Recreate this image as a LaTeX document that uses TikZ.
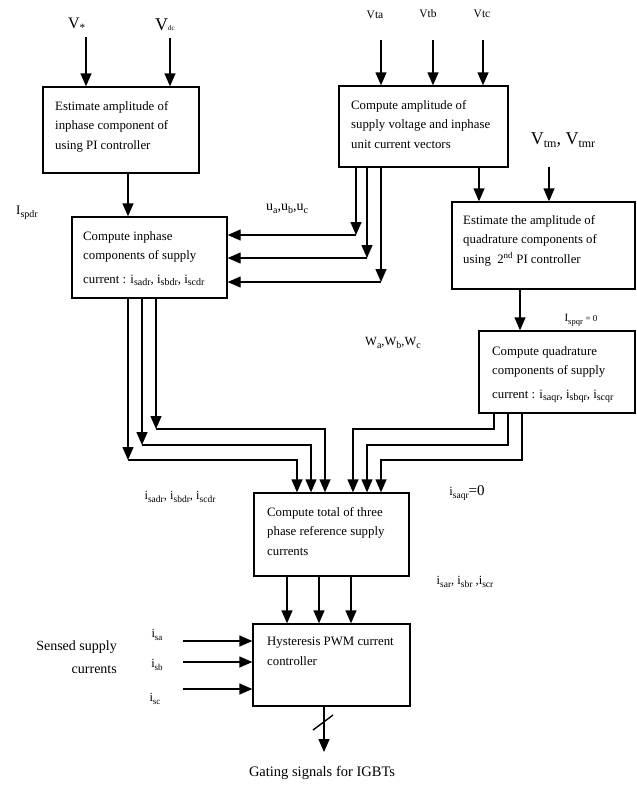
\documentclass[tikz,border=0pt]{standalone}
\usepackage{fontspec}
\setmainfont{Liberation Serif}
\usetikzlibrary{arrows.meta,calc}
\newcommand{\dn}[2][9.5]{\raisebox{-2.6pt}{\fontsize{#1}{#1}\selectfont #2}}
\begin{document}
\begin{tikzpicture}[x=1pt,y=-1pt,
  box/.style={draw,line width=1.4pt,inner sep=0pt},
  btext/.style={anchor=north west,inner sep=0pt,align=left,font=\fontsize{12.8}{19.5}\selectfont},
  lab/.style={inner sep=0pt,font=\fontsize{12.5}{14}\selectfont},
  wire/.style={line width=1.4pt},
  arr/.style={line width=1.4pt,-{Triangle[length=13pt,width=11pt]}}
]
\useasboundingbox (0,0) rectangle (637,787);

% boxes
\node[box,minimum width=156pt,minimum height=86pt] (b1) at (121,130) {};
\node[box,minimum width=169pt,minimum height=81pt] (b2) at (423.5,126.5) {};
\node[box,minimum width=155pt,minimum height=81pt] (b3) at (149.5,257.5) {};
\node[box,minimum width=183pt,minimum height=87pt] (b4) at (543.5,245.5) {};
\node[box,minimum width=156pt,minimum height=82pt] (b5) at (557,372) {};
\node[box,minimum width=155pt,minimum height=83pt] (b6) at (331.5,534.5) {};
\node[box,minimum width=157pt,minimum height=82pt] (b7) at (331.5,665) {};

% box texts
\node[btext] (t1) at (55,101) {Estimate amplitude of\\inphase component of\\using PI controller};
\node[btext] (t2) at (351,100) {Compute amplitude of\\supply voltage and inphase\\unit current vectors};
\node[btext] (t3) at (83,231) {Compute inphase\\components of supply\\[4pt]current : i\dn[10]{sadr}, i\dn[10]{sbdr}, i\dn[10]{scdr}};
\node[btext] (t4) at (463,215) {Estimate the amplitude of\\quadrature components of\\using\ \ 2\textsuperscript{nd} PI controller};
\node[btext] (t5) at (492,346) {Compute quadrature\\components of supply\\[4pt]current : i\dn[10]{saqr}, i\dn[10]{sbqr}, i\dn[10]{scqr}};
\node[btext] (t6) at (267,507) {Compute total of three\\phase reference supply\\currents};
\node[btext] (t7) at (267,637) {Hysteresis PWM current\\controller};

% labels
\node[inner sep=0pt,font=\fontsize{16}{18}\selectfont] (lvs) at (77,25) {V\textsubscript{*}};
\node[inner sep=0pt,font=\fontsize{18}{20}\selectfont] (lvdc) at (165,25) {V{\fontsize{7}{8}\selectfont dc}};
\node[inner sep=0pt,font=\fontsize{11.5}{13}\selectfont] (lva) at (375,15) {Vta};
\node[inner sep=0pt,font=\fontsize{11.5}{13}\selectfont] (lvb) at (428,14) {Vtb};
\node[inner sep=0pt,font=\fontsize{11.5}{13}\selectfont] (lvc) at (482,14) {Vtc};
\node[inner sep=0pt,font=\fontsize{18}{20}\selectfont] (lvtm) at (563,140) {V\dn[12]{tm}, V\dn[12]{tmr}};
\node[lab,font=\fontsize{13}{15}\selectfont] (lisp) at (27,213) {I\dn[10]{spdr}};
\node[lab,font=\fontsize{14}{16}\selectfont] (lu) at (287,209) {u\dn[10]{a},u\dn[10]{b},u\dn[10]{c}};
\node[lab] (lw) at (393,343) {W\dn[10]{a},W\dn[10]{b},W\dn[10]{c}};
\node[lab,font=\fontsize{11}{13}\selectfont] (liq) at (581,320) {I\dn[8.5]{spqr} {\fontsize{9}{10}\selectfont = 0}};
\node[lab] (lid) at (180,497) {i\dn{sadr}, i\dn{sbdr}, i\dn{scdr}};
\node[lab] (liqz) at (467,493) {i\dn{saqr}{\fontsize{15}{16}\selectfont =0}};
\node[lab] (lir) at (465,582) {i\dn{sar}, i\dn{sbr} ,i\dn{scr}};
\node[lab] (lisa) at (157,635) {i\dn[9]{sa}};
\node[lab] (lisb) at (157,665) {i\dn[9]{sb}};
\node[lab] (lisc) at (155,699) {i\dn[9]{sc}};
\node[inner sep=0pt,align=right,anchor=east,font=\fontsize{14}{23}\selectfont] (lsense) at (117,657) {Sensed supply\\currents};
\node[inner sep=0pt,font=\fontsize{14.5}{16}\selectfont] (lgate) at (322,773) {Gating signals for IGBTs};

% inputs to b1
\coordinate (vs) at (86,37);
\coordinate (vd) at (170,38);
\draw[arr] (vs) -- (vs |- b1.north);
\draw[arr] (vd) -- (vd |- b1.north);
% b1 -> b3
\coordinate (c13) at (128,200);
\draw[arr] (c13 |- b1.south) -- (c13 |- b3.north);
% inputs to b2
\coordinate (va) at (381,40);
\coordinate (vb) at (433,40);
\coordinate (vc) at (483,40);
\draw[arr] (va) -- (va |- b2.north);
\draw[arr] (vb) -- (vb |- b2.north);
\draw[arr] (vc) -- (vc |- b2.north);
% b2 -> b3 (unit vectors)
\coordinate (u1) at (356,235);
\coordinate (u2) at (367,258);
\coordinate (u3) at (381,282);
\foreach \u in {u1,u2,u3}{
  \draw[arr] (\u |- b2.south) -- (\u);
  \draw[arr] (\u) -- (\u -| b3.east);
}
% b2 -> b4, Vtm -> b4
\coordinate (c24) at (479,180);
\draw[arr] (c24 |- b2.south) -- (c24 |- b4.north);
\coordinate (vtm) at (549,167);
\draw[arr] (vtm) -- (vtm |- b4.north);
% b4 -> b5
\coordinate (c45) at (520,300);
\draw[arr] (c45 |- b4.south) -- (c45 |- b5.north);
% b3 -> b6
\coordinate (d1) at (128,460); \coordinate (d1e) at (297,460);
\coordinate (d2) at (142,445); \coordinate (d2e) at (311,445);
\coordinate (d3) at (156,429); \coordinate (d3e) at (325,429);
\foreach \d in {d1,d2,d3}{
  \draw[arr] (\d |- b3.south) -- (\d);
  \draw[arr] (\d) -- (\d e) -- (\d e |- b6.north);
}
% b5 -> b6
\coordinate (q1) at (494,429); \coordinate (q1e) at (353,429);
\coordinate (q2) at (508,445); \coordinate (q2e) at (367,445);
\coordinate (q3) at (522,460); \coordinate (q3e) at (381,460);
\foreach \q in {q1,q2,q3}{
  \draw[arr] (\q |- b5.south) -- (\q) -- (\q e) -- (\q e |- b6.north);
}
% b6 -> b7
\coordinate (m1) at (287,600);
\coordinate (m2) at (319,600);
\coordinate (m3) at (351,600);
\foreach \m in {m1,m2,m3}{
  \draw[arr] (\m |- b6.south) -- (\m |- b7.north);
}
% sensed currents -> b7
\coordinate (s1) at (183,641);
\coordinate (s2) at (183,662);
\coordinate (s3) at (183,689);
\foreach \s in {s1,s2,s3}{
  \draw[arr] (\s) -- (\s -| b7.west);
}
% b7 -> gating
\coordinate (g) at (324,752);
\draw[arr] (g |- b7.south) -- (g);
\draw[wire] ($(g)+(-11,-22)$) -- ++(20,-15);
\end{tikzpicture}
\end{document}
